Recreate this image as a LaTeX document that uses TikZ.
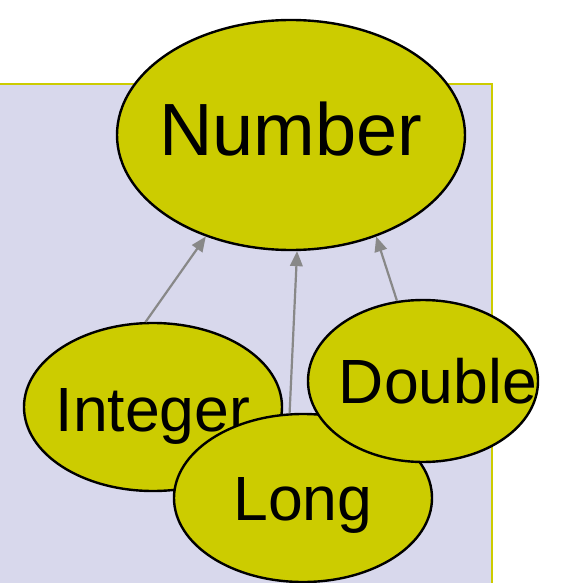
\documentclass[tikz,border=0pt]{standalone}
\usepackage{fontspec}
\setmainfont{Liberation Sans}
\usetikzlibrary{shapes.geometric,arrows.meta}
\definecolor{olive}{HTML}{CCCC00}
\definecolor{lavender}{HTML}{D8D8EC}
\definecolor{linkgray}{HTML}{888888}
\begin{document}
\begin{tikzpicture}[x=1pt,y=-1pt,
  blob/.style={ellipse, draw=black, line width=2.4pt, fill=olive, inner sep=0pt,
    text width=0pt, align=center},
  bigtext/.style={font=\fontsize{74}{80}\selectfont, text height=53pt, text depth=0pt},
  smalltext/.style={font=\fontsize{62.5}{70}\selectfont, text height=44.7pt, text depth=0pt},
  link/.style={draw=linkgray, line width=2.2pt, -{Triangle[length=15pt,width=12.5pt]}}]
  \useasboundingbox (0,0) rectangle (564,583);
  % panel behind the class diagram
  \draw[fill=lavender, draw=olive, line width=2.5pt] (-10,84) rectangle (492,600);
  % classes
  \node[blob, bigtext, minimum width=348pt, minimum height=230pt] (number) at (291,135) {\makebox[0pt]{\raisebox{6pt}{Number}}};
  \node[blob, smalltext, minimum width=258pt, minimum height=168pt] (integer) at (153,407) {\makebox[0pt]{\raisebox{-2pt}{Integer}}};
  \node[blob, smalltext, minimum width=258pt, minimum height=168pt] (long) at (303,498) {\makebox[0pt]{Long}};
  \node[blob, smalltext, minimum width=230pt, minimum height=162pt] (double) at (423,381) {\makebox[0pt]{\hspace{30pt}Double}};
  % inheritance links
  \draw[link] (integer.95.4) -- (number.230.8);
  \draw[link] (long.99.4) -- (number.273);
  \draw[link] (double.108.7) -- (number.310.1);
\end{tikzpicture}
\end{document}
